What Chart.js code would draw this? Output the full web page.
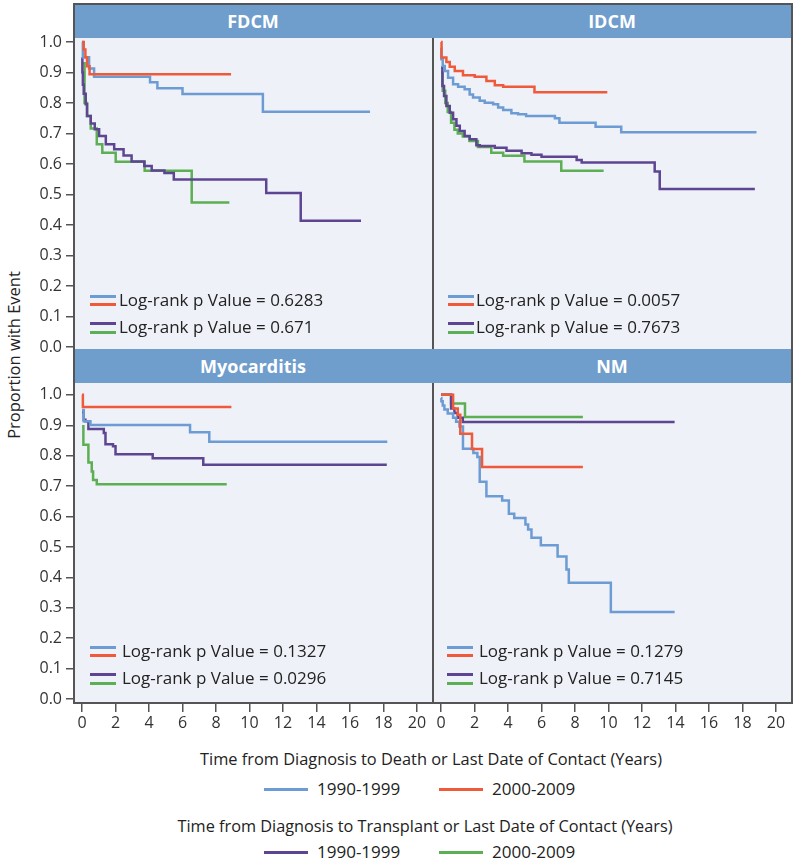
<!DOCTYPE html>
<html>
<head>
<meta charset="utf-8">
<script src="https://cdn.jsdelivr.net/npm/chart.js@4.4.1/dist/chart.umd.min.js"></script>
<style>
  html, body { margin: 0; padding: 0; background: #fff; overflow: hidden; }
  #fig { position: relative; width: 800px; height: 861px; overflow: hidden; font-family: "Open Sans", sans-serif; color: #222; }
  #fig canvas { position: absolute; z-index: 1; }
  .hdr { position: absolute; height: 34px; line-height: 34px; background: #6f9dcc; color: #fff; font-weight: bold; font-size: 18px; text-align: center; z-index: 2; }
  .frame { position: absolute; left: 73px; top: 3px; width: 720px; height: 701px; border: 2px solid #555; box-sizing: border-box; z-index: 3; pointer-events: none; }
  .lg { position: absolute; height: 24px; line-height: 24px; font-size: 17px; white-space: nowrap; z-index: 2; }
  .bar { position: absolute; z-index: 2; }
  .ttl { position: absolute; height: 24px; line-height: 24px; font-size: 16.5px; white-space: nowrap; text-align: center; }
</style>
</head>
<body>
<div id="fig">
  <div class="frame"></div>
</div>
<script>
// ---- data ----
const panelNames = ["FDCM", "IDCM", "Myocarditis", "NM"];
const pDeath = ["0.6283", "0.0057", "0.1327", "0.1279"];
const pTransplant = ["0.671", "0.7673", "0.0296", "0.7145"];
const seriesNames = ["1990-1999", "2000-2009"];
const xTicks = [0, 2, 4, 6, 8, 10, 12, 14, 16, 18, 20];
const yTicks = [0, 0.1, 0.2, 0.3, 0.4, 0.5, 0.6, 0.7, 0.8, 0.9, 1.0];

// [years, proportion] ; death = blue/red, transplant = purple/green
const fdcmDeath90 = [[0, 1.0], [0.05, 0.95], [0.42, 0.913], [0.72, 0.886], [4.06, 0.868], [4.5, 0.848], [6.0, 0.829], [10.8, 0.771], [17.2, 0.771]];
const fdcmDeath00 = [[0, 1.0], [0.1, 0.975], [0.2, 0.95], [0.3, 0.92], [0.45, 0.894], [8.9, 0.894]];
const fdcmTx90 = [[0, 0.95], [0.02, 0.9], [0.05, 0.86], [0.1, 0.83], [0.22, 0.796], [0.3, 0.757], [0.52, 0.733], [0.76, 0.714], [1.02, 0.692], [1.42, 0.665], [1.92, 0.648], [2.48, 0.628], [2.96, 0.608], [3.72, 0.593], [4.16, 0.579], [4.92, 0.57], [5.48, 0.549], [11.0, 0.505], [13.06, 0.414], [16.66, 0.414]];
const fdcmTx00 = [[0, 0.93], [0.15, 0.8], [0.3, 0.757], [0.52, 0.716], [0.88, 0.665], [1.21, 0.637], [2.01, 0.607], [3.74, 0.578], [6.55, 0.474], [8.8, 0.474]];

const idcmDeath90 = [[0, 0.98], [0.02, 0.943], [0.1, 0.921], [0.22, 0.905], [0.42, 0.883], [0.72, 0.861], [1.02, 0.853], [1.41, 0.845], [1.71, 0.828], [1.91, 0.818], [2.31, 0.807], [2.61, 0.801], [3.11, 0.796], [3.41, 0.785], [3.71, 0.777], [4.2, 0.766], [4.6, 0.763], [5.08, 0.757], [6.8, 0.75], [7.07, 0.735], [9.23, 0.722], [10.76, 0.704], [18.84, 0.704]];
const idcmDeath00 = [[0, 1.0], [0.03, 0.949], [0.32, 0.934], [0.52, 0.919], [0.82, 0.905], [1.31, 0.891], [2.01, 0.886], [2.71, 0.872], [3.21, 0.858], [3.71, 0.853], [5.58, 0.835], [9.93, 0.835]];
const idcmTx90 = [[0, 0.916], [0.08, 0.856], [0.18, 0.823], [0.32, 0.79], [0.52, 0.768], [0.72, 0.747], [0.92, 0.725], [1.12, 0.708], [1.41, 0.692], [1.71, 0.681], [2.11, 0.661], [2.31, 0.659], [3.21, 0.653], [3.91, 0.643], [4.81, 0.635], [5.4, 0.63], [6.0, 0.624], [8.1, 0.613], [8.4, 0.605], [12.76, 0.575], [13.06, 0.518], [18.74, 0.518]];
const idcmTx00 = [[0, 0.9], [0.1, 0.84], [0.25, 0.8], [0.4, 0.77], [0.6, 0.735], [0.8, 0.712], [1.0, 0.7], [1.3, 0.69], [1.7, 0.675], [2.2, 0.656], [3.0, 0.637], [3.71, 0.627], [4.98, 0.608], [7.18, 0.578], [9.71, 0.578]];

const myoDeath90 = [[0, 0.95], [0.1, 0.913], [0.5, 0.901], [6.45, 0.877], [7.6, 0.846], [18.23, 0.846]];
const myoDeath00 = [[0, 1.0], [0.05, 0.96], [8.92, 0.96]];
const myoTx90 = [[0, 0.943], [0.1, 0.918], [0.2, 0.913], [0.38, 0.888], [1.3, 0.875], [1.4, 0.838], [1.85, 0.831], [2.0, 0.805], [4.22, 0.792], [7.24, 0.77], [18.2, 0.77]];
const myoTx00 = [[0, 0.897], [0.08, 0.836], [0.38, 0.778], [0.58, 0.748], [0.66, 0.72], [0.88, 0.706], [8.64, 0.706]];

const nmDeath90 = [[0, 0.99], [0.02, 0.979], [0.1, 0.965], [0.2, 0.952], [0.4, 0.939], [0.72, 0.925], [0.9, 0.912], [1.1, 0.896], [1.31, 0.823], [1.93, 0.809], [2.17, 0.796], [2.31, 0.714], [2.71, 0.667], [3.65, 0.653], [4.05, 0.609], [4.37, 0.595], [5.04, 0.574], [5.2, 0.557], [5.4, 0.53], [5.96, 0.506], [6.96, 0.469], [7.49, 0.426], [7.63, 0.382], [10.14, 0.286], [13.95, 0.286]];
const nmDeath00 = [[0, 1.0], [0.72, 0.955], [1.0, 0.935], [1.15, 0.872], [1.85, 0.822], [2.45, 0.763], [8.47, 0.763]];
const nmTx90 = [[0, 1.0], [0.6, 0.955], [0.8, 0.94], [1.0, 0.925], [1.3, 0.911], [13.95, 0.911]];
const nmTx00 = [[0, 1.0], [0.6, 0.972], [1.43, 0.927], [8.47, 0.927]];

// ---- styles / layout ----
const blue = "#6c9cd3", red = "#ef5a3b", purple = "#5d4592", green = "#5caf52";
const fig = document.getElementById("fig");

// col: chart area x range, row: chart area y range
const cols = [{ left: 74, right: 432 }, { left: 433, right: 791 }];
const rows = [{ top: 38, bottom: 349, ymin: -0.0066, ymax: 1.013 }, { top: 383, bottom: 703, ymin: -0.013, ymax: 1.039 }];

const panels = [
  { col: 0, row: 0, series: [fdcmDeath00, fdcmDeath90, fdcmTx90, fdcmTx00] },
  { col: 1, row: 0, series: [idcmDeath00, idcmDeath90, idcmTx90, idcmTx00] },
  { col: 0, row: 1, series: [myoDeath00, myoDeath90, myoTx90, myoTx00] },
  { col: 1, row: 1, series: [nmDeath00, nmDeath90, nmTx90, nmTx00] }
];
const lineColors = [red, blue, purple, green];

const areaBg = {
  id: "areaBg",
  beforeDraw(chart) {
    const a = chart.chartArea, ctx = chart.ctx;
    ctx.save();
    ctx.fillStyle = "#eff1f8";
    ctx.fillRect(a.left, a.top, a.right - a.left, a.bottom - a.top);
    ctx.restore();
  }
};

panels.forEach((p, i) => {
  const c = cols[p.col], r = rows[p.row];
  const isLeft = p.col === 0, isBottom = p.row === 1;
  const cvLeft = isLeft ? 0 : c.left - 20;
  const cvTop = r.top - 20;
  const cvRight = c.right + 12;
  const cvBottom = isBottom ? 745 : r.bottom + 20;
  const cv = document.createElement("canvas");
  cv.width = cvRight - cvLeft;
  cv.height = cvBottom - cvTop;
  cv.style.left = cvLeft + "px";
  cv.style.top = cvTop + "px";
  fig.appendChild(cv);

  // header
  const h = document.createElement("div");
  h.className = "hdr";
  h.style.left = (isLeft ? 74 : 432) + "px";
  h.style.width = (isLeft ? 358 : 360) + "px";
  h.style.top = (r.top - 34) + "px";
  h.textContent = panelNames[i];
  fig.appendChild(h);

  new Chart(cv, {
    type: "line",
    data: {
      datasets: p.series.map((s, k) => ({
        data: s.map(([x, y]) => ({ x, y })),
        borderColor: lineColors[k],
        borderWidth: 2.5,
        stepped: true,
        pointRadius: 0,
        fill: false
      }))
    },
    options: {
      responsive: false,
      animation: false,
      devicePixelRatio: 1,
      layout: { padding: { left: isLeft ? 0 : 20, right: 12, top: 20, bottom: isBottom ? 0 : 20 } },
      plugins: { legend: { display: false }, tooltip: { enabled: false } },
      scales: {
        x: {
          type: "linear",
          display: isBottom,
          min: -0.48, max: 20.9,
          afterBuildTicks: s => { s.ticks = xTicks.map(v => ({ value: v })); },
          afterFit: s => { s.height = isBottom ? 42 : 0; },
          ticks: { color: "#333", font: { family: "Open Sans", size: 16 }, padding: 2, maxRotation: 0, autoSkip: false },
          grid: { drawOnChartArea: false, tickLength: 9, color: "#555", lineWidth: 1.5 },
          border: { display: false }
        },
        y: {
          type: "linear",
          min: r.ymin, max: r.ymax,
          afterBuildTicks: s => { s.ticks = yTicks.map(v => ({ value: v })); },
          afterFit: s => { s.width = isLeft ? 74 : 0; },
          ticks: { display: isLeft, color: "#333", font: { family: "Open Sans", size: 16 }, padding: 4, callback: v => v.toFixed(1) },
          grid: { display: isLeft, drawOnChartArea: false, tickLength: 8, color: "#555", lineWidth: 1.5 },
          border: { display: !isLeft, color: "#555", width: 2 }
        }
      }
    },
    plugins: [areaBg]
  });
});

// in-panel legends
function legendRow(x, y, textX, colors, label, gap) {
  colors.forEach((c, k) => {
    const b = document.createElement("div");
    b.className = "bar";
    b.style.cssText += `left:${x}px;top:${y - 5.5 + k * gap}px;width:26px;height:3px;background:${c}`;
    fig.appendChild(b);
  });
  const t = document.createElement("div");
  t.className = "lg";
  t.style.left = textX + "px";
  t.style.top = (y - 12) + "px";
  t.textContent = label;
  fig.appendChild(t);
}
const legendPos = [
  { x: 90, tx: 119, y1: 300, y2: 327 },
  { x: 448, tx: 476, y1: 300, y2: 327 },
  { x: 90, tx: 122, y1: 651, y2: 678 },
  { x: 447, tx: 479, y1: 651, y2: 678 }
];
legendPos.forEach((g, i) => {
  legendRow(g.x, g.y1, g.tx, [blue, red], "Log-rank p Value = " + pDeath[i], 8);
  legendRow(g.x, g.y2, g.tx, [purple, green], "Log-rank p Value = " + pTransplant[i], 9);
});

// y-axis title
const yt = document.createElement("div");
yt.className = "ttl";
yt.style.cssText += "left:-136px;top:343px;width:300px;transform:rotate(-90deg);font-size:16.5px";
yt.textContent = "Proportion with Event";
fig.appendChild(yt);

// bottom titles + legends
function title(text, cx, cy, target) {
  const d = document.createElement("div");
  d.className = "ttl";
  d.style.left = (cx - 350) + "px";
  d.style.width = "700px";
  d.style.top = (cy - 12) + "px";
  const s = document.createElement("span");
  s.textContent = text;
  d.appendChild(s);
  fig.appendChild(d);
  const w = s.getBoundingClientRect().width;
  d.style.transform = `scaleX(${target / w})`;
}
title("Time from Diagnosis to Death or Last Date of Contact (Years)", 431, 759, 462);
title("Time from Diagnosis to Transplant or Last Date of Contact (Years)", 425, 826, 495);

function bottomLegend(y, colors) {
  [264, 439].forEach((x, k) => {
    const b = document.createElement("div");
    b.className = "bar";
    b.style.cssText += `left:${x}px;top:${y - 1.5}px;width:44px;height:3px;background:${colors[k]}`;
    fig.appendChild(b);
    const t = document.createElement("div");
    t.className = "lg";
    t.style.left = (x + 53) + "px";
    t.style.top = (y - 12) + "px";
    t.style.fontSize = "17px";
    t.textContent = seriesNames[k];
    fig.appendChild(t);
  });
}
bottomLegend(789, [blue, red]);
bottomLegend(852, [purple, green]);
</script>
</body>
</html>
